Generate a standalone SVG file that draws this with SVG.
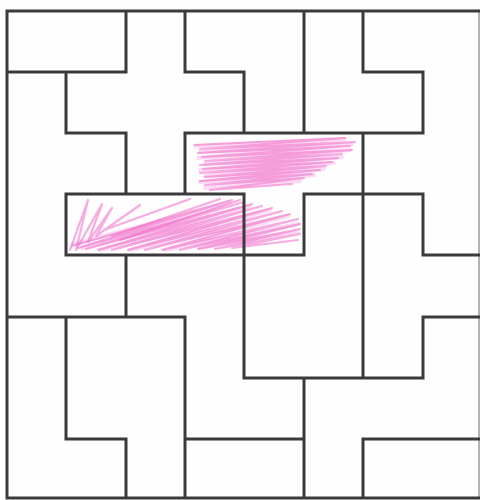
<svg xmlns="http://www.w3.org/2000/svg" width="480" height="500" viewBox="0 0 480 500">
<style>
.g{fill:none;stroke:#3a3a3c;stroke-width:3;stroke-linecap:square}
.e{fill:none;stroke:#9a9a9c;stroke-width:1.5}
.p{fill:none;stroke:#f06ac8;stroke-width:2.2;stroke-linejoin:round;stroke-linecap:round;opacity:0.55}
.q{fill:none;stroke:#f48ad6;stroke-width:4;stroke-linejoin:round;stroke-linecap:round;opacity:0.3}
</style>
<rect width="480" height="500" fill="#fefefe"/>
<g id="shading">
<path class="q" d="M195,146 L345,139 L200,152 L352,144 L198,158 L350,150 L205,164 L342,157 L200,170 L334,163 L205,176 L324,169 L200,182 L314,175 L205,188 L300,181"/>
<path class="p" d="M195,145 L345,138 L200,149 L355,142 L198,153 L350,146 L202,157 L352,150 L205,161 L342,154 L200,165 L338,158 L203,169 L332,162 L200,173 L326,166 L205,177 L320,170 L200,181 L312,174 L205,185 L304,178 L210,190 L292,184"/>
<path class="q" d="M74,244 L230,202 L82,248 L250,206 L100,250 L270,210 L130,250 L288,216 L165,250 L298,224 L200,248 L298,232"/>
<path class="p" d="M72,246 L232,200 L78,248 L244,202 L86,249 L252,204 L98,250 L262,206 L112,250 L272,208 L128,250 L282,211 L145,250 L290,214 L162,250 L298,219 L180,250 L300,224 L198,249 L300,229 L215,249 L300,234 L232,248 L298,240"/>
<path class="p" d="M70,250 L88,200 L76,250 L102,204 L88,242 L112,208 L96,236 L140,205 M104,230 L190,199 M112,236 L220,199 M120,240 L240,200"/>
</g>
<g id="grid">
<line class="e" x1="479" y1="11" x2="479" y2="498"/>
<path class="g" d="M7,11 H479 M7,498 H479 M7,11 V498
M7,72 H126 M185,72 H244 M363,72 H423
M66,133 H126 M185,133 H423
M66,194 H244 M304,194 H423
M66,255 H304 M423,255 H479
M7,317 H185 M423,317 H479
M244,378 H423
M66,439 H126 M185,439 H304 M363,439 H479
M66,72 V133 M66,194 V255 M66,317 V439
M126,11 V72 M126,133 V194 M126,255 V317 M126,439 V498
M185,11 V72 M185,133 V194 M185,317 V498
M244,72 V133 M244,194 V378
M304,11 V133 M304,194 V255 M304,378 V498
M363,11 V72 M363,133 V378 M363,439 V498
M423,72 V133 M423,194 V255 M423,317 V378"/>
</g>
</svg>
